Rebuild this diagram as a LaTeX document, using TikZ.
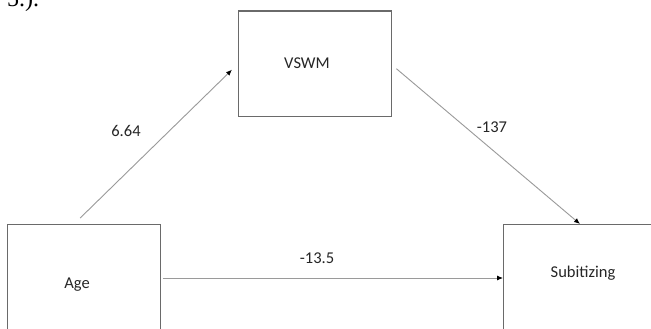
\documentclass[tikz,border=0pt]{standalone}
\usepackage{fontspec}
\setmainfont{Carlito}
\newfontfamily\seriffrag{Liberation Serif}
\usetikzlibrary{arrows.meta}
\definecolor{boxgray}{HTML}{6A6A6A}
\definecolor{arrowgray}{HTML}{9A9A9A}
\tikzset{
  varbox/.style={draw=boxgray, line width=1.4pt, anchor=north west, inner sep=0pt},
  vartext/.style={font=\fontsize{16.5}{18}\selectfont, text=black!85, inner sep=0pt},
  coef/.style={font=\fontsize{16.5}{18}\selectfont, text=black!85, inner sep=0pt},
  pathline/.style={draw=arrowgray, line width=0.9pt, -{Latex[length=6pt,width=5pt,black]}}
}
\begin{document}
\begin{tikzpicture}[x=1pt,y=-1pt]
\useasboundingbox (0,0) rectangle (651,329);
\clip (0,0) rectangle (651,329);
\fill[white] (0,0) rectangle (651,329);
% fragment of preceding text
\node[font=\seriffrag\fontsize{24}{26}\selectfont, anchor=base west, inner sep=0pt] (frag) at (7,7) {5.).};
% boxes
\node[varbox, minimum width=153pt, minimum height=105pt] (vswm) at (238,10.5) {};
\node[varbox, minimum width=153pt, minimum height=130pt] (age) at (6.5,224) {};
\node[varbox, minimum width=160pt, minimum height=130pt] (sub) at (503,224) {};
% box texts
\node[vartext] (vswmtext) at (307,63) {VSWM};
\node[vartext] (agetext) at (77,285) {Age};
\node[vartext] (subtext) at (583,273) {Subitizing};
% connector end points
\coordinate (a1s) at ([shift={(-3.5,-6)}]age.north);
\coordinate (a1e) at ([shift={(-6,6)}]vswm.west);
\coordinate (a2s) at ([shift={(4,5)}]vswm.east);
\coordinate (a2e) at ([shift={(77,0)}]sub.north west);
\coordinate (a3s) at ([shift={(2,0)}]age.east |- 0,278);
\coordinate (a3e) at (sub.west |- 0,278);
% connectors
\draw[pathline] (a1s) -- (a1e);
\draw[pathline] (a2s) -- (a2e);
\draw[pathline] (a3s) -- (a3e);
% coefficients
\node[coef] (c1) at (126,131) {6.64};
\node[coef] (c2) at (492,127) {-137};
\node[coef] (c3) at (317,258) {-13.5};
\end{tikzpicture}
\end{document}
